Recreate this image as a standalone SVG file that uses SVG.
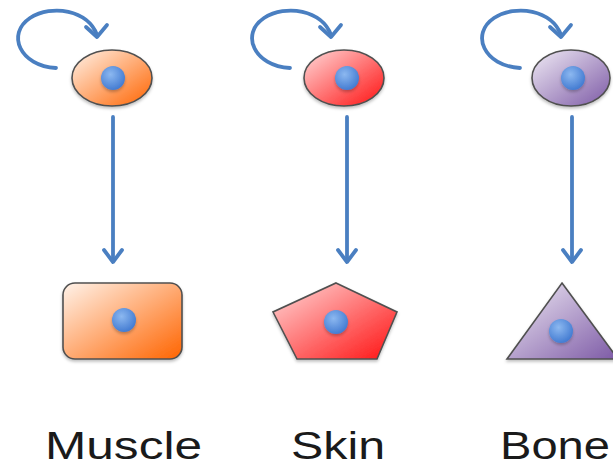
<svg xmlns="http://www.w3.org/2000/svg" width="613" height="468" viewBox="0 0 613 468">
<defs>
<linearGradient id="gOrange" x1="0" y1="0" x2="1" y2="1">
<stop offset="0" stop-color="#fff3ea"/><stop offset="1" stop-color="#ff6400"/>
</linearGradient>
<linearGradient id="gRed" x1="0" y1="0" x2="1" y2="1">
<stop offset="0" stop-color="#ffdada"/><stop offset="1" stop-color="#ff1010"/>
</linearGradient>
<linearGradient id="gPurple" x1="0" y1="0" x2="1" y2="1">
<stop offset="0" stop-color="#f0ebf5"/><stop offset="1" stop-color="#7d5aa6"/>
</linearGradient>
<radialGradient id="gNuc" cx="0.4" cy="0.35" r="0.7">
<stop offset="0" stop-color="#8cb8f0"/><stop offset="1" stop-color="#3f78d0"/>
</radialGradient>
<filter id="sh" x="-20%" y="-20%" width="140%" height="150%">
<feDropShadow dx="0" dy="2" stdDeviation="1.5" flood-color="#000" flood-opacity="0.25"/>
</filter>
</defs>
<style>
.cell{stroke:#505050;stroke-width:1.6;filter:url(#sh)}
.nuc{fill:url(#gNuc);filter:url(#sh)}
.conn{fill:none;stroke:#4a7fc1;stroke-width:3.8;stroke-linecap:round}
.chev{fill:none;stroke:#4a7fc1;stroke-width:3.8;stroke-linecap:round;stroke-linejoin:round}
.lbl{font-family:"Liberation Sans",Arial,sans-serif;font-size:38px;fill:#1a1a1a}
</style>
<g id="connectors">
<path class="conn" d="M56 68 C20 66 6 34 30 18 C52 4 88 10 97 35"/>
<polyline class="chev" points="86,27 97,37 107,25"/>
<path class="conn" d="M290 68 C254 66 240 34 264 18 C286 4 322 10 331 35"/>
<polyline class="chev" points="320,27 331,37 341,25"/>
<path class="conn" d="M520 68 C484 66 470 34 494 18 C516 4 552 10 561 35"/>
<polyline class="chev" points="550,27 561,37 571,25"/>
<line class="conn" x1="113" y1="117" x2="113" y2="260"/>
<polyline class="chev" points="104,250 113,262 122,250"/>
<line class="conn" x1="347" y1="117" x2="347" y2="260"/>
<polyline class="chev" points="338,250 347,262 356,250"/>
<line class="conn" x1="572" y1="117" x2="572" y2="260"/>
<polyline class="chev" points="563,250 572,262 581,250"/>
</g>
<g id="muscle-stem">
<ellipse class="cell" cx="112" cy="78" rx="40" ry="28" fill="url(#gOrange)"/>
<circle class="nuc" cx="113" cy="78" r="12"/>
</g>
<g id="skin-stem">
<ellipse class="cell" cx="344" cy="78" rx="40" ry="28" fill="url(#gRed)"/>
<circle class="nuc" cx="347" cy="78" r="12"/>
</g>
<g id="bone-stem">
<ellipse class="cell" cx="571" cy="78" rx="39" ry="28" fill="url(#gPurple)"/>
<circle class="nuc" cx="573" cy="78" r="12"/>
</g>
<g id="muscle-cell">
<rect class="cell" x="63" y="283" width="119" height="76" rx="12" fill="url(#gOrange)"/>
<circle class="nuc" cx="124" cy="320" r="12"/>
</g>
<g id="skin-cell">
<polygon class="cell" points="336,283 397,312 377,359 297,359 273,312" fill="url(#gRed)"/>
<circle class="nuc" cx="336" cy="322" r="12"/>
</g>
<g id="bone-cell">
<polygon class="cell" points="562,283 618,359 507,359" fill="url(#gPurple)"/>
<circle class="nuc" cx="561" cy="331" r="12"/>
</g>
<g id="labels">
<text class="lbl" x="45" y="459" textLength="157" lengthAdjust="spacingAndGlyphs">Muscle</text>
<text class="lbl" x="291" y="459" textLength="94" lengthAdjust="spacingAndGlyphs">Skin</text>
<text class="lbl" x="500" y="459" textLength="110" lengthAdjust="spacingAndGlyphs">Bone</text>
</g>
</svg>
